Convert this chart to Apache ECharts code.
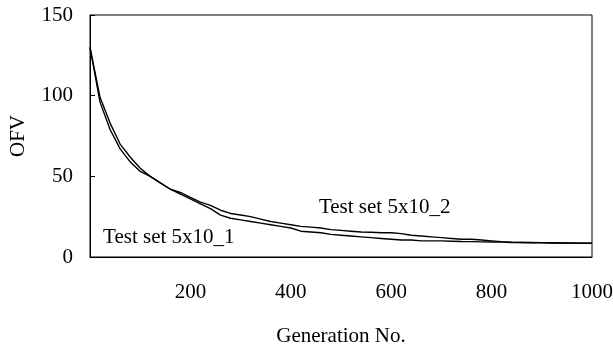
<!DOCTYPE html>
<html>
<head>
<meta charset="utf-8">
<script src="https://cdn.jsdelivr.net/npm/echarts@6/dist/echarts.min.js"></script>
<style>
  html, body { margin: 0; padding: 0; background: #fff; }
  #chart { width: 613px; height: 347px; }
</style>
</head>
<body>
<div id="chart"></div>
<script>
const generations = [0, 20, 40, 60, 80, 100, 120, 140, 160, 180, 200, 220, 240, 260, 280, 300, 320, 340, 360, 380,
  400, 420, 440, 460, 480, 500, 520, 540, 560, 580, 600, 620, 640, 660, 680, 700, 720, 740, 760, 780,
  800, 820, 840, 860, 880, 900, 920, 940, 960, 980, 1000];
const set1Values = [130, 99, 83, 70, 62, 55, 50, 46, 42, 39, 36, 33, 30, 26, 24, 23, 22, 21, 20, 19,
  18, 16, 15.5, 15, 14, 13.5, 13, 12.5, 12, 11.5, 11, 10.5, 10.5, 10, 10, 10, 9.8, 9.6, 9.5, 9.4,
  9.3, 9.2, 9, 9, 8.8, 8.8, 8.7, 8.7, 8.6, 8.5, 8.5];
const set2Values = [130, 96, 79, 67, 59, 53, 50, 46, 42, 40, 37, 34, 32, 29, 27, 26, 25, 23.5, 22, 21,
  20, 19, 18.5, 18, 17, 16.5, 16, 15.5, 15.3, 15, 15, 14.5, 13.5, 13, 12.5, 12, 11.5, 11, 11, 10.5,
  10, 9.5, 9.2, 9, 9, 8.9, 8.8, 8.7, 8.7, 8.6, 8.5];
const seriesNames = ["Test set 5x10_1", "Test set 5x10_2"];
const labelX = [26, 456];
const labelY = [11.8, 30.4];
const xTicks = [200, 400, 600, 800, 1000];

const font = "'Liberation Serif', 'Times New Roman', serif";
const fontSize = 21;
const chart = echarts.init(document.getElementById("chart"));

function makeSeries(name, values, idx) {
  return {
    name: name,
    type: "line",
    data: generations.map((g, i) => [g, values[i]]),
    showSymbol: false,
    silent: true,
    lineStyle: { color: "#000", width: 1.4 },
    markPoint: {
      symbol: "circle",
      symbolSize: 0,
      silent: true,
      label: {
        show: true,
        position: "inside",
        align: "left",
        verticalAlign: "middle",
        color: "#000",
        fontFamily: font,
        fontSize: fontSize,
        formatter: name
      },
      data: [{ coord: [labelX[idx], labelY[idx]] }]
    }
  };
}

chart.setOption({
  animation: false,
  grid: {
    left: 90, right: 21, top: 15, bottom: 90,
    outerBoundsMode: "none",
    show: true, borderColor: "#000", borderWidth: 1
  },
  xAxis: {
    type: "value",
    min: 0,
    max: 1000,
    interval: 200,
    name: "Generation No.",
    nameLocation: "middle",
    nameGap: 69,
    nameTextStyle: { color: "#000", fontFamily: font, fontSize: fontSize },
    axisLine: { lineStyle: { color: "#000", width: 1 } },
    axisTick: { show: false },
    splitLine: { show: false },
    axisLabel: {
      color: "#000",
      fontFamily: font,
      fontSize: fontSize,
      margin: 25,
      formatter: (v) => (xTicks.includes(v) ? String(v) : "")
    }
  },
  yAxis: {
    type: "value",
    min: 0,
    max: 150,
    interval: 50,
    name: "OFV",
    nameLocation: "middle",
    nameGap: 61,
    nameRotate: 90,
    nameTextStyle: { color: "#000", fontFamily: font, fontSize: fontSize },
    axisLine: { show: true, lineStyle: { color: "#000", width: 1 } },
    axisTick: { show: true, inside: true, length: 5, lineStyle: { color: "#000" } },
    splitLine: { show: false },
    axisLabel: { color: "#000", fontFamily: font, fontSize: fontSize, margin: 17 }
  },
  series: [
    makeSeries(seriesNames[0], set1Values, 0),
    makeSeries(seriesNames[1], set2Values, 1)
  ]
});
</script>
</body>
</html>
